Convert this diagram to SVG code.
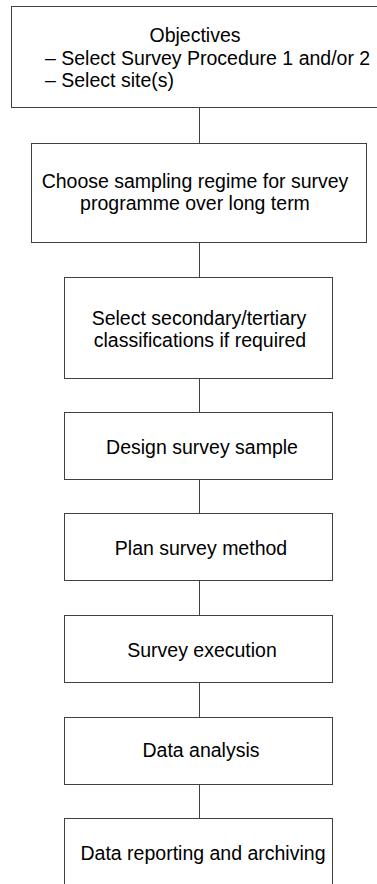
<svg xmlns="http://www.w3.org/2000/svg" width="377" height="884" viewBox="0 0 377 884">
<style>
.box{fill:#fff;stroke:#404040;stroke-width:1}
.t{font-family:"Liberation Sans",Arial,sans-serif;font-size:19.5px;fill:#000}
.c{text-anchor:middle}
.ln{stroke:#404040;stroke-width:1;fill:none}
</style>
<rect width="377" height="884" fill="#fff"/>
<g id="connectors">
<line class="ln" x1="199.5" y1="107" x2="199.5" y2="143"/>
<line class="ln" x1="199.5" y1="243" x2="199.5" y2="277"/>
<line class="ln" x1="199.5" y1="378" x2="199.5" y2="412"/>
<line class="ln" x1="199.5" y1="480" x2="199.5" y2="513"/>
<line class="ln" x1="199.5" y1="581" x2="199.5" y2="615"/>
<line class="ln" x1="199.5" y1="683" x2="199.5" y2="717"/>
<line class="ln" x1="199.5" y1="784" x2="199.5" y2="818"/>
</g>
<g id="n1">
<rect class="box" x="11.5" y="6.5" width="380" height="101"/>
<text class="t c" x="195" y="42">Objectives</text>
<text class="t" x="45" y="65">– Select Survey Procedure 1 and/or 2</text>
<text class="t" x="45" y="87">– Select site(s)</text>
</g>
<g id="n2">
<rect class="box" x="31.5" y="143.5" width="335" height="99"/>
<text class="t c" x="195" y="188">Choose sampling regime for survey</text>
<text class="t c" x="195" y="210">programme over long term</text>
</g>
<g id="n3">
<rect class="box" x="64.5" y="277.5" width="268" height="101"/>
<text class="t c" x="199" y="325">Select secondary/tertiary</text>
<text class="t c" x="200" y="347">classifications if required</text>
</g>
<g id="n4">
<rect class="box" x="64.5" y="412.5" width="268" height="67"/>
<text class="t c" x="202" y="454">Design survey sample</text>
</g>
<g id="n5">
<rect class="box" x="64.5" y="513.5" width="268" height="67"/>
<text class="t c" x="201" y="555">Plan survey method</text>
</g>
<g id="n6">
<rect class="box" x="64.5" y="615.5" width="268" height="67"/>
<text class="t c" x="202" y="657">Survey execution</text>
</g>
<g id="n7">
<rect class="box" x="64.5" y="717.5" width="268" height="67"/>
<text class="t c" x="201" y="757">Data analysis</text>
</g>
<g id="n8">
<rect class="box" x="64.5" y="818.5" width="268" height="100"/>
<text class="t c" x="203" y="860">Data reporting and archiving</text>
</g>
</svg>
